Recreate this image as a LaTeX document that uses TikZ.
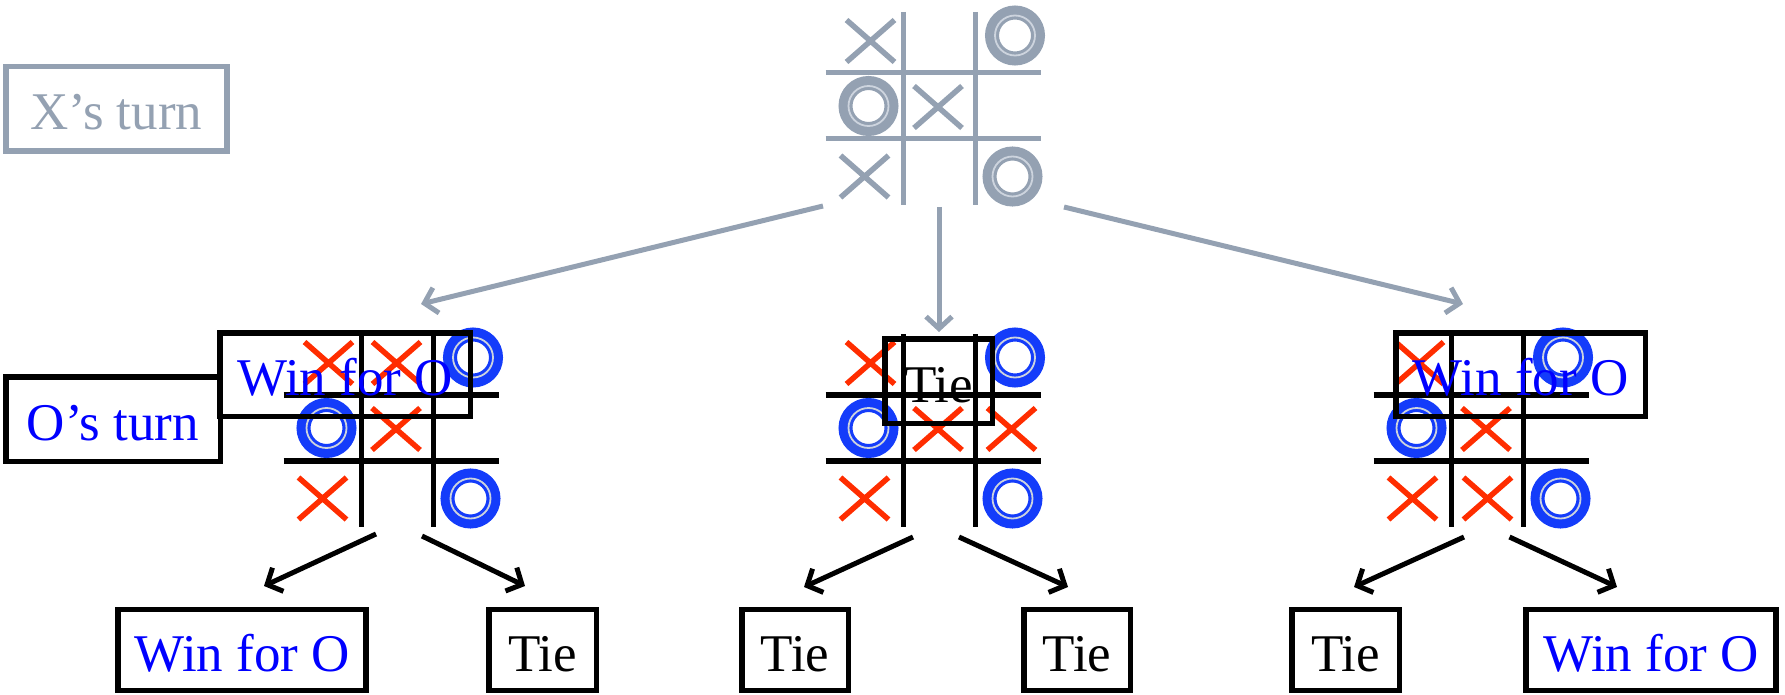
\documentclass[tikz,border=0pt]{standalone}
\usepackage{fontspec}
\setmainfont{Liberation Serif}
\usetikzlibrary{arrows.meta}
\definecolor{slate}{RGB}{148,161,178}
\definecolor{xred}{RGB}{255,45,0}
\definecolor{oblue}{RGB}{20,60,250}
\definecolor{ringgrey}{RGB}{205,212,222}
\tikzset{
  xmark/.pic={\draw[line width=5.5pt] (-2.4,-2.1) -- (2.4,2.1) (-2.4,2.1) -- (2.4,-2.1);},
  omark/.pic={\draw[line width=14pt] (0,0) circle[radius=23pt];
    \draw[ringgrey,line width=1.8pt] (0,0) circle[radius=20pt];},
  gridline/.style={line width=5.5pt},
  outcome/.style={draw,line width=5.5pt,inner sep=0pt,text height=42pt,text depth=0pt,
    font=\fontsize{53}{60}\selectfont},
  arr/.style={line width=5pt,-{Straight Barb[length=12pt,width=26pt]}}
}
\begin{document}
\begin{tikzpicture}[x=10pt,y=-10pt]
  \useasboundingbox (0,0) rectangle (178.5,69.5);
  % X to move
  \begin{scope}[shift={(93.95,10.6)},slate]
    \draw[gridline,line width=5pt] (-3.6,-9.4) -- (-3.6,9.9) (3.6,-9.4) -- (3.6,9.9)
      (-11.4,-3.3) -- (10.1,-3.3) (-11.4,3.3) -- (10.1,3.3);
    \foreach \c/\r in {-6.9/-6.5,-0.15/0.1,-7.5/7.05} \pic at (\c,\r) {xmark};
    \foreach \c/\r in {7.55/-7.05,-7.1/0,7.3/7.05} \pic at (\c,\r) {omark};
  \end{scope}
  % the three replies
  \foreach \bx in {39.75,93.95,148.75}
    \draw[gridline,shift={(\bx,42.8)}] (-3.6,-9.4) -- (-3.6,9.9) (3.6,-9.4) -- (3.6,9.9)
      (-11.4,-3.3) -- (10.1,-3.3) (-11.4,3.3) -- (10.1,3.3);
  \begin{scope}[shift={(39.75,42.8)}]
    \foreach \c/\r in {-6.9/-6.5,-0.1/-6.5,-0.15/0.1,-7.5/7.05} \pic[xred] at (\c,\r) {xmark};
    \foreach \c/\r in {7.55/-7.05,-7.1/0,7.3/7.05} \pic[oblue] at (\c,\r) {omark};
  \end{scope}
  \begin{scope}[shift={(93.95,42.8)}]
    \foreach \c/\r in {-6.9/-6.5,-0.15/0.1,7.2/0.1,-7.5/7.05} \pic[xred] at (\c,\r) {xmark};
    \foreach \c/\r in {7.55/-7.05,-7.1/0,7.3/7.05} \pic[oblue] at (\c,\r) {omark};
  \end{scope}
  \begin{scope}[shift={(148.75,42.8)}]
    \foreach \c/\r in {-6.8/-6.5,-0.15/0.1,-7.5/7.05,0/7.05} \pic[xred] at (\c,\r) {xmark};
    \foreach \c/\r in {7.55/-7.05,-7.1/0,7.3/7.05} \pic[oblue] at (\c,\r) {omark};
  \end{scope}

  \node[outcome,slate,minimum width=221pt,minimum height=84.5pt] (xturn) at (11.63,10.9) {X’s turn};
  \node[outcome,text=blue,minimum width=214.5pt,minimum height=84.5pt] (oturn) at (11.3,41.9) {O’s turn};
  \node[outcome,text=blue,minimum width=250.5pt,minimum height=83.5pt] (winA) at (34.5,37.45) {Win for O};
  \node[outcome,minimum width=107.5pt,minimum height=84.5pt] (tieB) at (93.85,38.1) {Tie};
  \node[outcome,text=blue,minimum width=249.5pt,minimum height=83.5pt] (winC) at (152.05,37.45) {Win for O};

  \node[outcome,text=blue,minimum width=248pt,minimum height=81pt] (winAA) at (24.2,65) {Win for O};
  \node[outcome,minimum width=107.5pt,minimum height=81pt] (tieAB) at (54.25,65) {Tie};
  \node[outcome,minimum width=106.5pt,minimum height=81pt] (tieBA) at (79.5,65) {Tie};
  \node[outcome,minimum width=106.5pt,minimum height=81pt] (tieBB) at (107.7,65) {Tie};
  \node[outcome,minimum width=107.5pt,minimum height=81pt] (tieCA) at (134.55,65) {Tie};
  \node[outcome,text=blue,minimum width=250pt,minimum height=81pt] (winCB) at (165.1,65) {Win for O};

  % arrows
  \coordinate (top-a) at (82.3,20.6);
  \coordinate (top-b) at (93.9,20.7);
  \coordinate (top-c) at (106.4,20.7);
  \coordinate (left-in) at (42.1,30.4);
  \coordinate (mid-in) at (93.9,33.2);
  \coordinate (right-in) at (146.3,30.4);
  \draw[arr,slate] (top-a) -- (left-in);
  \draw[arr,slate] (top-b) -- (mid-in);
  \draw[arr,slate] (top-c) -- (right-in);

  \coordinate (left-a) at (37.6,53.4);
  \coordinate (left-b) at (42.2,53.6);
  \coordinate (mid-a) at (91.3,53.7);
  \coordinate (mid-b) at (95.9,53.7);
  \coordinate (right-a) at (146.4,53.7);
  \coordinate (right-b) at (150.95,53.7);
  \coordinate (aa-in) at (26.4,58.6);
  \coordinate (ab-in) at (52.5,58.6);
  \coordinate (ba-in) at (80.4,58.7);
  \coordinate (bb-in) at (106.8,58.7);
  \coordinate (ca-in) at (135.4,58.7);
  \coordinate (cb-in) at (161.7,58.7);
  \draw[arr] (left-a) -- (aa-in);
  \draw[arr] (left-b) -- (ab-in);
  \draw[arr] (mid-a) -- (ba-in);
  \draw[arr] (mid-b) -- (bb-in);
  \draw[arr] (right-a) -- (ca-in);
  \draw[arr] (right-b) -- (cb-in);
\end{tikzpicture}
\end{document}
